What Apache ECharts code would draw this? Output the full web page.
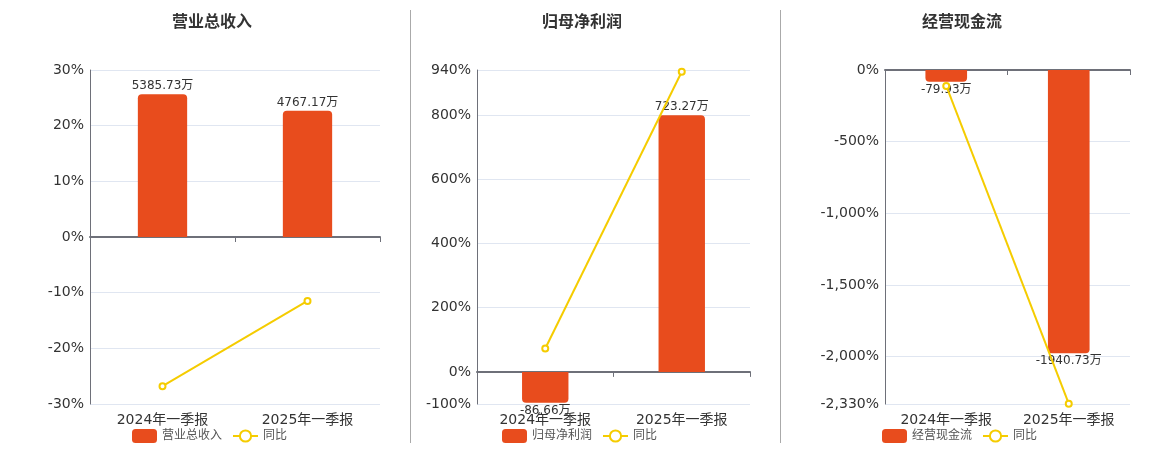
<!DOCTYPE html>
<html>
<head>
<meta charset="utf-8">
<script src="https://cdn.jsdelivr.net/npm/echarts@6/dist/echarts.min.js"></script>
<style>
html,body{margin:0;padding:0;background:#fff;}
#main{width:1160px;height:450px;}
</style>
</head>
<body>
<div id="main"></div>
<script>
var categories = ['2024年一季报', '2025年一季报'];
var panelTitles = ['营业总收入', '归母净利润', '经营现金流'];
var revenue = [5385.73, 4767.17];
var revenueYoy = [-26.8, -11.49];
var profit = [-86.66, 723.27];
var profitYoy = [72.7, 934.6];
var cashflow = [-79.93, -1940.73];
var cashflowYoy = [-111.5, -2328];
var yoyName = '同比';

var barValues = [revenue, profit, cashflow];
var yoyValues = [revenueYoy, profitYoy, cashflowYoy];

var BAR_COLOR = '#E84C1D';
var LINE_COLOR = '#F5CC00';
var AXIS_COLOR = '#6E7079';
var TEXT_COLOR = '#333';
var FONT = '"DejaVu Sans", "Noto Sans CJK SC", sans-serif';

var grids = [
  {left: 90, right: 780, top: 70, bottom: 46},
  {left: 477, right: 410, top: 70, bottom: 46},
  {left: 885, right: 30, top: 70, bottom: 46}
];
var pctAxes = [
  {min: -30, max: 30, interval: 10},
  {min: -100, max: 940},
  {min: -2330, max: 0}
];
var barAxes = [
  {min: -6300, max: 6300},
  {min: -90.5, max: 851},
  {min: -2288, max: 0}
];
var titleLeft = [167, 537, 917];
var legendLeft = [127, 497, 877];

function fmtPct(v) {
  return echarts.format.addCommas(v) + '%';
}

var option = {
  animation: false,
  textStyle: {fontFamily: FONT},
  title: [], grid: [], xAxis: [], yAxis: [], series: [], legend: [],
  graphic: [
    {type: 'line', shape: {x1: 410.5, y1: 10, x2: 410.5, y2: 443}, style: {stroke: '#aaa', lineWidth: 1}},
    {type: 'line', shape: {x1: 780.5, y1: 10, x2: 780.5, y2: 443}, style: {stroke: '#aaa', lineWidth: 1}}
  ]
};

for (var i = 0; i < 3; i++) {
  option.title.push({
    text: panelTitles[i], left: titleLeft[i], top: 10,
    textStyle: {fontSize: 16, fontWeight: 'bold', color: TEXT_COLOR, fontFamily: FONT}
  });
  option.grid.push(grids[i]);
  option.xAxis.push({
    type: 'category', gridIndex: i, data: categories, position: 'bottom',
    axisLine: {show: true, onZero: true, onZeroAxisIndex: 2 * i, lineStyle: {color: AXIS_COLOR, width: 2}},
    axisTick: {show: true, length: 5, lineStyle: {color: AXIS_COLOR}},
    axisLabel: {show: false},
    splitLine: {show: false}
  });
  option.xAxis.push({
    type: 'category', gridIndex: i, data: categories, position: 'bottom',
    axisLine: {show: false, onZero: false},
    axisTick: {show: false},
    axisLabel: {show: true, fontSize: 14, color: TEXT_COLOR, margin: 9, fontFamily: FONT},
    splitLine: {show: false}
  });
  var pa = {
    type: 'value', gridIndex: i, position: 'left',
    min: pctAxes[i].min, max: pctAxes[i].max,
    axisLine: {show: true, lineStyle: {color: AXIS_COLOR, width: 1}},
    axisTick: {show: false},
    axisLabel: {fontSize: 14, color: TEXT_COLOR, margin: 6, formatter: fmtPct, fontFamily: FONT},
    splitLine: {show: true, lineStyle: {color: '#E0E6F1'}}
  };
  if (pctAxes[i].interval) pa.interval = pctAxes[i].interval;
  option.yAxis.push(pa);
  option.yAxis.push({
    type: 'value', gridIndex: i, position: 'right', show: false,
    min: barAxes[i].min, max: barAxes[i].max,
    splitLine: {show: false}
  });

  var barData = barValues[i].map(function (v) {
    return {
      value: v,
      itemStyle: {borderRadius: v >= 0 ? [4, 4, 0, 0] : [0, 0, 4, 4]},
      label: {position: v >= 0 ? 'top' : 'bottom'}
    };
  });
  option.series.push({
    name: panelTitles[i], type: 'bar', xAxisIndex: 2 * i, yAxisIndex: 2 * i + 1,
    barWidth: '34%', data: barData,
    itemStyle: {color: BAR_COLOR},
    label: {show: true, fontSize: 12, color: TEXT_COLOR, distance: 2, fontFamily: FONT,
      formatter: function (p) { return p.value + '万'; }}
  });
  option.series.push({
    name: yoyName, type: 'line', xAxisIndex: 2 * i, yAxisIndex: 2 * i,
    data: yoyValues[i], symbol: 'emptyCircle', symbolSize: 6,
    itemStyle: {color: LINE_COLOR, borderWidth: 1.5},
    lineStyle: {color: LINE_COLOR, width: 2}, z: 5
  });
  option.legend.push({
    data: [panelTitles[i], yoyName], left: legendLeft[i], top: 424,
    itemWidth: 25, itemHeight: 14, itemGap: 10,
    textStyle: {fontSize: 12, color: '#555', fontFamily: FONT}
  });
}

var chart = echarts.init(document.getElementById('main'), null, {renderer: 'canvas'});
chart.setOption(option);
</script>
</body>
</html>
